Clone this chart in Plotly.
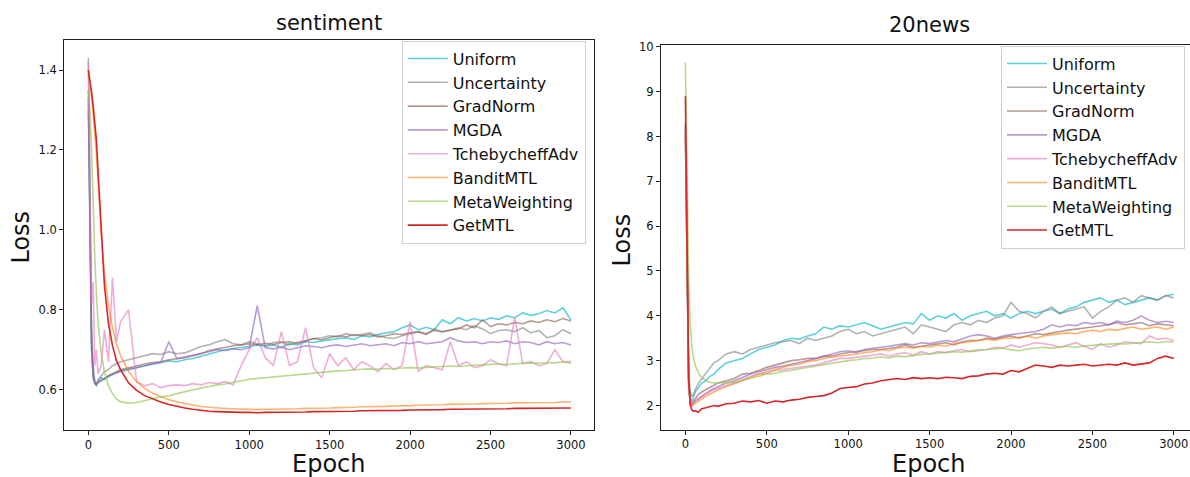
import plotly.graph_objects as go

# ---------------- data ----------------
EPOCHS = [0, 10, 20, 30, 40, 50, 60, 80, 100, 125, 150, 175, 200] + list(range(250, 3001, 50))

METHODS = ["Uniform", "Uncertainty", "GradNorm", "MGDA", "TchebycheffAdv",
           "BanditMTL", "MetaWeighting", "GetMTL"]

# sentiment losses
sent_uniform = [1.30, 0.95, 0.70, 0.63, 0.615, 0.61, 0.62, 0.63, 0.625, 0.635, 0.64, 0.645, 0.648,
                0.652, 0.655, 0.660, 0.664, 0.668, 0.672, 0.670, 0.675, 0.678, 0.684, 0.690, 0.695,
                0.700, 0.703, 0.705, 0.708, 0.712, 0.708, 0.712, 0.706, 0.715, 0.712, 0.720, 0.718,
                0.722, 0.725, 0.728, 0.730, 0.726, 0.735, 0.732, 0.738, 0.742, 0.745, 0.755, 0.762,
                0.750, 0.756, 0.750, 0.775, 0.765, 0.780, 0.772, 0.778, 0.772, 0.780, 0.776, 0.785,
                0.780, 0.792, 0.786, 0.790, 0.798, 0.792, 0.805, 0.775]
sent_uncertainty = [1.43, 1.10, 0.75, 0.66, 0.62, 0.612, 0.625, 0.635, 0.645, 0.65, 0.66, 0.665, 0.67,
                    0.675, 0.680, 0.685, 0.690, 0.688, 0.695, 0.690, 0.692, 0.700, 0.708, 0.712, 0.720,
                    0.725, 0.715, 0.712, 0.720, 0.715, 0.710, 0.718, 0.720, 0.712, 0.718, 0.722, 0.728,
                    0.730, 0.735, 0.732, 0.740, 0.735, 0.738, 0.742, 0.735, 0.730, 0.728, 0.735, 0.740,
                    0.745, 0.738, 0.752, 0.745, 0.748, 0.755, 0.750, 0.760, 0.752, 0.740, 0.748, 0.750,
                    0.745, 0.755, 0.742, 0.748, 0.730, 0.735, 0.750, 0.740]
sent_gradnorm = [1.35, 1.00, 0.72, 0.64, 0.62, 0.615, 0.618, 0.622, 0.628, 0.635, 0.64, 0.646, 0.65,
                 0.655, 0.660, 0.664, 0.668, 0.670, 0.675, 0.678, 0.680, 0.685, 0.690, 0.698, 0.702,
                 0.706, 0.710, 0.712, 0.715, 0.712, 0.716, 0.713, 0.718, 0.720, 0.716, 0.722, 0.728,
                 0.725, 0.730, 0.735, 0.732, 0.738, 0.735, 0.738, 0.732, 0.735, 0.740, 0.738, 0.742,
                 0.745, 0.740, 0.748, 0.745, 0.750, 0.752, 0.762, 0.755, 0.775, 0.758, 0.765, 0.762,
                 0.768, 0.765, 0.772, 0.768, 0.775, 0.770, 0.778, 0.772]
sent_mgda = [1.33, 0.95, 0.70, 0.63, 0.615, 0.612, 0.618, 0.622, 0.628, 0.632, 0.638, 0.642, 0.645,
             0.650, 0.655, 0.660, 0.665, 0.668, 0.720, 0.678, 0.682, 0.686, 0.690, 0.695, 0.700,
             0.698, 0.702, 0.700, 0.705, 0.810, 0.705, 0.702, 0.706, 0.700, 0.705, 0.710, 0.708,
             0.705, 0.710, 0.712, 0.708, 0.712, 0.715, 0.710, 0.712, 0.715, 0.710, 0.718, 0.715,
             0.720, 0.715, 0.718, 0.720, 0.730, 0.722, 0.718, 0.720, 0.715, 0.720, 0.718, 0.722,
             0.715, 0.720, 0.718, 0.712, 0.720, 0.715, 0.718, 0.712]
sent_tcheby = [1.42, 1.10, 0.81, 0.87, 0.66, 0.70, 0.64, 0.66, 0.75, 0.67, 0.88, 0.72, 0.77,
               0.80, 0.620, 0.610, 0.615, 0.605, 0.610, 0.612, 0.610, 0.615, 0.612, 0.618, 0.615,
               0.620, 0.612, 0.660, 0.700, 0.730, 0.680, 0.660, 0.745, 0.660, 0.670, 0.755, 0.655,
               0.630, 0.690, 0.660, 0.680, 0.650, 0.670, 0.660, 0.645, 0.665, 0.650, 0.660, 0.770,
               0.645, 0.660, 0.655, 0.650, 0.720, 0.660, 0.670, 0.655, 0.660, 0.675, 0.665, 0.660,
               0.780, 0.665, 0.670, 0.660, 0.665, 0.700, 0.670, 0.670]
sent_bandit = [1.39, 1.37, 1.33, 1.29, 1.24, 1.19, 1.12, 0.99, 0.89, 0.81, 0.755, 0.715, 0.685,
               0.645, 0.620, 0.603, 0.591, 0.582, 0.575, 0.569, 0.565, 0.561, 0.558, 0.556, 0.554,
               0.553, 0.552, 0.551, 0.551, 0.550, 0.551, 0.551, 0.551, 0.552, 0.552, 0.553, 0.553,
               0.554, 0.554, 0.555, 0.555, 0.556, 0.557, 0.557, 0.558, 0.558, 0.559, 0.559, 0.560,
               0.561, 0.561, 0.562, 0.562, 0.563, 0.563, 0.564, 0.564, 0.565, 0.565, 0.566, 0.566,
               0.567, 0.567, 0.567, 0.568, 0.568, 0.568, 0.569, 0.569]
sent_meta = [1.35, 1.30, 1.20, 1.05, 0.93, 0.84, 0.77, 0.69, 0.645, 0.61, 0.59, 0.577, 0.570,
             0.566, 0.568, 0.572, 0.578, 0.582, 0.584, 0.590, 0.595, 0.600, 0.604, 0.608, 0.612,
             0.614, 0.618, 0.622, 0.626, 0.628, 0.630, 0.631, 0.633, 0.636, 0.638, 0.640, 0.642,
             0.644, 0.645, 0.647, 0.648, 0.650, 0.651, 0.652, 0.651, 0.653, 0.652, 0.654, 0.655,
             0.654, 0.656, 0.657, 0.658, 0.659, 0.658, 0.660, 0.661, 0.662, 0.663, 0.664, 0.663,
             0.665, 0.666, 0.667, 0.666, 0.668, 0.667, 0.669, 0.667]
sent_getmtl = [1.400, 1.375, 1.345, 1.31, 1.27, 1.225, 1.15, 0.99, 0.86, 0.765, 0.71, 0.672, 0.65,
               0.617, 0.598, 0.585, 0.576, 0.569, 0.563, 0.558, 0.554, 0.551, 0.548, 0.546, 0.545,
               0.544, 0.543, 0.543, 0.543, 0.542, 0.543, 0.543, 0.543, 0.544, 0.544, 0.544, 0.545,
               0.545, 0.545, 0.546, 0.546, 0.546, 0.547, 0.547, 0.547, 0.548, 0.548, 0.548, 0.549,
               0.549, 0.550, 0.550, 0.550, 0.551, 0.551, 0.551, 0.551, 0.552, 0.552, 0.552, 0.552,
               0.553, 0.553, 0.553, 0.553, 0.553, 0.554, 0.554, 0.554]

# 20news losses
news_uniform = [8.0, 4.5, 2.6, 2.15, 2.1, 2.2, 2.3, 2.4, 2.5, 2.55, 2.65, 2.7, 2.8,
                2.95, 3.0, 3.05, 3.15, 3.25, 3.3, 3.35, 3.45, 3.5, 3.48, 3.55, 3.6,
                3.75, 3.7, 3.78, 3.75, 3.8, 3.85, 3.78, 3.7, 3.75, 3.8, 3.85, 3.82,
                4.05, 3.9, 4.0, 3.95, 4.05, 3.9, 4.0, 4.05, 4.1, 4.0, 4.05, 3.95,
                4.05, 4.1, 4.05, 4.1, 4.15, 4.05, 4.15, 4.2, 4.3, 4.35, 4.4, 4.3,
                4.35, 4.25, 4.3, 4.35, 4.4, 4.35, 4.45, 4.48]
news_uncertainty = [8.3, 5.0, 2.8, 2.3, 2.2, 2.25, 2.35, 2.5, 2.6, 2.7, 2.85, 2.95, 3.0,
                    3.15, 3.2, 3.15, 3.25, 3.3, 3.35, 3.4, 3.42, 3.45, 3.38, 3.5, 3.45,
                    3.5, 3.55, 3.65, 3.7, 3.6, 3.65, 3.55, 3.6, 3.65, 3.7, 3.75, 3.6,
                    3.8, 3.75, 3.7, 3.65, 3.8, 3.85, 3.8, 3.9, 3.85, 3.95, 4.0, 4.3,
                    4.1, 4.05, 3.95, 4.1, 4.2, 4.05, 4.1, 4.15, 4.2, 3.95, 4.1, 4.2,
                    4.35, 4.4, 4.3, 4.45, 4.4, 4.35, 4.45, 4.4]
news_gradnorm = [8.2, 4.6, 2.5, 2.1, 2.05, 2.1, 2.15, 2.25, 2.3, 2.35, 2.4, 2.45, 2.5,
                 2.55, 2.6, 2.7, 2.72, 2.78, 2.85, 2.9, 2.95, 3.0, 3.02, 3.05, 3.05,
                 3.1, 3.1, 3.15, 3.18, 3.2, 3.22, 3.25, 3.25, 3.28, 3.3, 3.35, 3.3,
                 3.32, 3.35, 3.38, 3.4, 3.35, 3.42, 3.45, 3.45, 3.5, 3.48, 3.52, 3.55,
                 3.5, 3.55, 3.6, 3.58, 3.62, 3.65, 3.68, 3.7, 3.72, 3.75, 3.78, 3.8,
                 3.85, 3.8, 3.82, 3.85, 3.78, 3.82, 3.8, 3.78]
news_mgda = [8.3, 4.6, 2.45, 2.05, 2.0, 2.05, 2.1, 2.15, 2.2, 2.28, 2.33, 2.38, 2.42,
             2.5, 2.55, 2.62, 2.7, 2.75, 2.8, 2.85, 2.88, 2.92, 2.95, 3.0, 3.05,
             3.1, 3.15, 3.2, 3.22, 3.18, 3.25, 3.28, 3.3, 3.32, 3.35, 3.38, 3.35,
             3.4, 3.38, 3.42, 3.45, 3.42, 3.48, 3.55, 3.58, 3.55, 3.5, 3.55, 3.58,
             3.6, 3.62, 3.65, 3.7, 3.8, 3.75, 3.8, 3.78, 3.85, 3.82, 3.85, 3.8,
             3.88, 3.85, 3.9, 4.0, 3.9, 3.85, 3.88, 3.85]
news_tcheby = [8.1, 4.5, 2.4, 2.05, 2.0, 2.05, 2.1, 2.15, 2.2, 2.25, 2.3, 2.35, 2.38,
               2.45, 2.5, 2.58, 2.65, 2.7, 2.72, 2.78, 2.8, 2.82, 2.85, 2.88, 2.9,
               2.95, 3.0, 3.05, 3.05, 3.08, 3.1, 3.12, 3.15, 3.1, 3.15, 3.18, 3.12,
               3.2, 3.15, 3.2, 3.18, 3.22, 3.25, 3.2, 3.22, 3.25, 3.3, 3.28, 3.35,
               3.3, 3.35, 3.4, 3.38, 3.35, 3.3, 3.35, 3.4, 3.32, 3.25, 3.38, 3.3,
               3.35, 3.42, 3.4, 3.38, 3.55, 3.48, 3.5, 3.45]
news_bandit = [8.0, 4.4, 2.4, 2.05, 2.0, 2.02, 2.05, 2.1, 2.15, 2.2, 2.25, 2.3, 2.35,
               2.42, 2.48, 2.55, 2.62, 2.7, 2.75, 2.8, 2.85, 2.9, 2.92, 2.98, 3.0,
               3.05, 3.08, 3.1, 3.12, 3.15, 3.18, 3.2, 3.25, 3.22, 3.28, 3.3, 3.28,
               3.32, 3.3, 3.35, 3.32, 3.38, 3.4, 3.42, 3.45, 3.48, 3.45, 3.5, 3.5,
               3.52, 3.55, 3.5, 3.55, 3.58, 3.6, 3.62, 3.6, 3.65, 3.68, 3.65, 3.7,
               3.68, 3.72, 3.75, 3.7, 3.72, 3.75, 3.7, 3.75]
news_meta = [9.65, 7.0, 4.8, 3.8, 3.3, 3.05, 2.9, 2.72, 2.62, 2.56, 2.52, 2.50, 2.50,
             2.51, 2.52, 2.56, 2.60, 2.65, 2.70, 2.72, 2.76, 2.78, 2.82, 2.85, 2.88,
             2.92, 2.95, 2.97, 3.00, 3.02, 3.05, 3.06, 3.08, 3.06, 3.10, 3.09, 3.12,
             3.14, 3.15, 3.17, 3.18, 3.20, 3.19, 3.22, 3.24, 3.25, 3.27, 3.28, 3.24,
             3.22, 3.26, 3.28, 3.30, 3.28, 3.30, 3.32, 3.30, 3.33, 3.34, 3.35, 3.36,
             3.38, 3.37, 3.39, 3.40, 3.42, 3.40, 3.42, 3.42]
news_getmtl = [8.9, 5.0, 2.6, 2.0, 1.90, 1.87, 1.88, 1.85, 1.93, 1.95, 1.97, 2.00, 1.98,
               2.04, 2.05, 2.10, 2.08, 2.11, 2.05, 2.10, 2.08, 2.12, 2.14, 2.18, 2.20,
               2.22, 2.28, 2.38, 2.40, 2.42, 2.48, 2.50, 2.55, 2.58, 2.60, 2.58, 2.62,
               2.60, 2.62, 2.60, 2.63, 2.62, 2.60, 2.65, 2.66, 2.70, 2.72, 2.70, 2.78,
               2.75, 2.82, 2.90, 2.88, 2.85, 2.90, 2.88, 2.90, 2.92, 2.88, 2.90, 2.92,
               2.90, 2.95, 2.90, 2.92, 2.95, 3.05, 3.10, 3.05]

SENT = [sent_uniform, sent_uncertainty, sent_gradnorm, sent_mgda, sent_tcheby,
        sent_bandit, sent_meta, sent_getmtl]
NEWS = [news_uniform, news_uncertainty, news_gradnorm, news_mgda, news_tcheby,
        news_bandit, news_meta, news_getmtl]

X_TICKS = [0, 500, 1000, 1500, 2000, 2500, 3000]
SENT_Y_TICKS = [0.6, 0.8, 1.0, 1.2, 1.4]
NEWS_Y_TICKS = [2, 3, 4, 5, 6, 7, 8, 9, 10]

# ---------------- style ----------------
COLORS = ["rgba(23,190,207,0.7)", "rgba(127,127,127,0.6)", "rgba(140,86,75,0.6)",
          "rgba(148,103,189,0.65)", "rgba(227,119,194,0.6)", "rgba(255,127,14,0.6)",
          "rgba(154,200,90,0.7)", "rgba(214,39,40,1.0)"]
FONT = "DejaVu Sans"
W, H = 1190, 477


def px(xp):
    return xp / W


def py(yp):
    return 1 - yp / H


fig = go.Figure()
for i, name in enumerate(METHODS):
    fig.add_trace(go.Scatter(x=EPOCHS, y=SENT[i], mode="lines", name=name,
                             line=dict(color=COLORS[i], width=1.6),
                             xaxis="x", yaxis="y", legend="legend"))
for i, name in enumerate(METHODS):
    fig.add_trace(go.Scatter(x=EPOCHS, y=NEWS[i], mode="lines", name=name,
                             line=dict(color=COLORS[i], width=1.6),
                             xaxis="x2", yaxis="y2", legend="legend2"))

axis_common = dict(showgrid=False, zeroline=False, showline=True, linecolor="#222",
                   linewidth=1.2, ticks="outside", ticklen=4, tickwidth=1, tickcolor="#222",
                   ticklabeloverflow="allow",
                   tickfont=dict(family=FONT, size=11.5, color="#111"))

legend_common = dict(xanchor="right", yanchor="top",
                     bgcolor="rgba(255,255,255,0.85)", bordercolor="#d0d0d0", borderwidth=1,
                     font=dict(family=FONT, size=16, color="#111"), itemwidth=40)

fig.update_layout(
    width=W, height=H,
    margin=dict(l=0, r=0, t=0, b=0),
    paper_bgcolor="white", plot_bgcolor="white",
    showlegend=True,
    xaxis=dict(domain=[px(64.3), px(594.3)], range=[-149.5, 3145], anchor="y",
               tickvals=X_TICKS, mirror=True, **axis_common),
    yaxis=dict(domain=[py(429.5), py(35)], range=[0.499, 1.476], anchor="x",
               tickvals=SENT_Y_TICKS, tickformat=".1f", mirror=True, **axis_common),
    xaxis2=dict(domain=[px(661), 1.0], range=[-150, 3099.6], anchor="y2",
                tickvals=X_TICKS, mirror=True, **axis_common),
    yaxis2=dict(domain=[py(429), py(40.7)], range=[1.464, 10.035], anchor="x2",
                tickvals=NEWS_Y_TICKS, **axis_common),
    legend=dict(x=px(585.7), y=py(36), **legend_common),
    legend2=dict(x=px(1185), y=py(41), **legend_common),
)

annots = [
    dict(text="sentiment", x=px(329.3), y=py(18), size=21),
    dict(text="20news", x=px(929), y=py(20), size=21),
    dict(text="Epoch", x=px(329.3), y=py(464), size=24),
    dict(text="Epoch", x=px(929), y=py(464), size=24),
]
for a in annots:
    fig.add_annotation(text=a["text"], x=a["x"], y=a["y"], xref="paper", yref="paper",
                       xanchor="center", yanchor="middle", showarrow=False,
                       font=dict(family=FONT, size=a["size"], color="#111"))
for xx, yy in [(px(21), py(235)), (px(622), py(238))]:
    fig.add_annotation(text="Loss", x=xx, y=yy, xref="paper", yref="paper",
                       xanchor="center", yanchor="middle", showarrow=False, textangle=-90,
                       font=dict(family=FONT, size=24, color="#111"))

fig.write_html("out.html", config={"displayModeBar": False},
               post_script="document.body.style.margin='0';document.body.style.overflow='hidden';")
